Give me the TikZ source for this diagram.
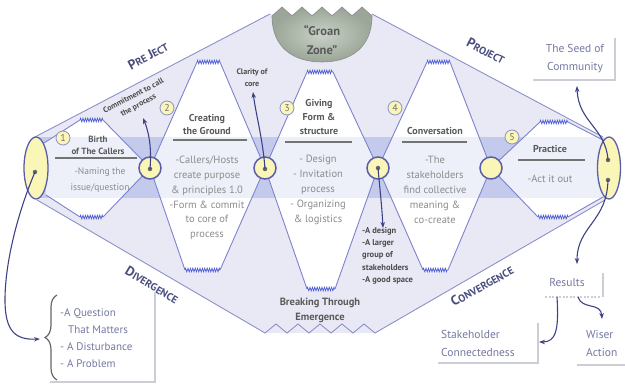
\documentclass[tikz,border=0pt]{standalone}
\usepackage{fontspec}
\setmainfont{PT Sans}
\usetikzlibrary{arrows.meta,decorations.pathmorphing,decorations.pathreplacing,shapes.geometric}
\definecolor{lav}{HTML}{E9E9F6}
\definecolor{banddark}{HTML}{C3CAEC}
\definecolor{bandlight}{HTML}{EDEFF9}
\definecolor{wavec}{HTML}{7C82CC}
\definecolor{squigc}{HTML}{4F5FD6}
\definecolor{outerc}{HTML}{8C90C8}
\definecolor{navy}{HTML}{3E4285}
\definecolor{cyel}{HTML}{FAF6B8}
\definecolor{cring}{HTML}{5A5EA8}
\definecolor{groanc}{HTML}{9AA698}
\definecolor{groanin}{HTML}{C9D1C6}
\definecolor{ttlc}{HTML}{5A5A5A}
\definecolor{bodc}{HTML}{8C8C8C}
\definecolor{lblc}{HTML}{4A4E7E}
\definecolor{boxc}{HTML}{7478A0}
\definecolor{shadc}{HTML}{CDCDD6}
\newcommand\mysc[2]{{\fontsize{13.5}{13.5}\selectfont #1}{\fontsize{10.5}{10.5}\selectfont #2}}
\begin{document}
\begin{tikzpicture}[x=1pt,y=-1pt,
  wave/.style={draw=wavec,line width=0.9pt},
  squig/.style={draw=squigc,line width=0.7pt,decorate,decoration={zigzag,segment length=2.4pt,amplitude=1.8pt}},
  outer/.style={draw=outerc,line width=0.9pt},
  bigc/.style={circle,minimum size=22pt,inner sep=0pt,fill=cyel,draw=cring,line width=1.5pt},
  ell/.style={ellipse,minimum width=24pt,minimum height=62pt,inner sep=0pt,fill=cyel,draw=cring,line width=1.3pt},
  dot/.style={circle,fill=black!60,inner sep=0pt,minimum size=4.5pt},
  numc/.style={circle,minimum size=14pt,inner sep=0pt,fill=cyel,draw=outerc,line width=0.8pt,text=black!55,font=\fontsize{10}{10}\selectfont},
  ttl/.style={align=center,text=ttlc,inner sep=0pt},
  bod/.style={align=center,text=bodc,inner sep=0pt},
  sml/.style={align=center,text=black!70,inner sep=0pt,font=\fontsize{8.5}{11}\selectfont\bfseries},
  lbl/.style={text=lblc,inner sep=0pt,font=\bfseries},
  boxt/.style={text=boxc,inner sep=0pt,font=\fontsize{11.5}{18}\selectfont},
  uline/.style={draw=black!55,line width=1.3pt},
  shad/.style={draw=shadc,line width=1.3pt},
  narr/.style={draw=navy,line width=1.1pt,-{Stealth[length=6pt,width=4.5pt]}}]
\useasboundingbox (0,0) rectangle (625,387);

% diamond background
\fill[lav] (33,138) -- (270,14) -- (372,14) -- (603,137) -- (620,168) -- (605,200) -- (375,333) -- (265,333) -- (37,200) -- (24,168) -- cycle;
\begin{scope}
\clip (0,138) rectangle (625,198);
\fill[banddark] (33,138) -- (270,14) -- (372,14) -- (603,137) -- (620,168) -- (605,200) -- (375,333) -- (265,333) -- (37,200) -- (24,168) -- cycle;
\end{scope}

% cells
\fill[white] (44,143) -- (80,120) -- (103,120) -- (150,168) -- (103,217) -- (80,217) -- (46,195) -- cycle;
\fill[white] (150,168) -- (197,62) -- (220,62) -- (265,168) -- (220,270) -- (185,270) -- cycle;
\fill[white] (265,168) -- (307,72) -- (333,72) -- (378,168) -- (335,289) -- (307,289) -- cycle;
\fill[white] (378,168) -- (427,62) -- (450,62) -- (491,168) -- (448,270) -- (423,270) -- cycle;
\fill[white] (491,168) -- (540,122) -- (568,122) -- (603,140) -- (603,197) -- (568,217) -- (538,217) -- cycle;
\begin{scope}
\clip (0,138) rectangle (625,198);
\fill[bandlight] (44,143) -- (80,120) -- (103,120) -- (150,168) -- (103,217) -- (80,217) -- (46,195) -- cycle;
\fill[bandlight] (150,168) -- (197,62) -- (220,62) -- (265,168) -- (220,270) -- (185,270) -- cycle;
\fill[bandlight] (265,168) -- (307,72) -- (333,72) -- (378,168) -- (335,289) -- (307,289) -- cycle;
\fill[bandlight] (378,168) -- (427,62) -- (450,62) -- (491,168) -- (448,270) -- (423,270) -- cycle;
\fill[bandlight] (491,168) -- (540,122) -- (568,122) -- (603,140) -- (603,197) -- (568,217) -- (538,217) -- cycle;
\end{scope}

% wave lines
\draw[wave] (44,143) -- (80,120);  \draw[squig] (80,120) -- (103,120);  \draw[wave] (103,120) -- (150,168);
\draw[wave] (46,195) -- (80,217);  \draw[squig] (80,217) -- (103,217);  \draw[wave] (103,217) -- (150,168);
\draw[wave] (150,168) -- (197,62); \draw[squig] (197,62) -- (220,62);   \draw[wave] (220,62) -- (265,168);
\draw[wave] (150,168) -- (185,270);\draw[squig] (185,270) -- (220,270); \draw[wave] (220,270) -- (265,168);
\draw[wave] (265,168) -- (307,72); \draw[squig] (307,72) -- (333,72);   \draw[wave] (333,72) -- (378,168);
\draw[wave] (265,168) -- (307,289);\draw[squig] (307,289) -- (335,289); \draw[wave] (335,289) -- (378,168);
\draw[wave] (378,168) -- (427,62); \draw[squig] (427,62) -- (450,62);   \draw[wave] (450,62) -- (491,168);
\draw[wave] (378,168) -- (423,270);\draw[squig] (423,270) -- (448,270); \draw[wave] (448,270) -- (491,168);
\draw[wave] (491,168) -- (540,122);\draw[squig] (540,122) -- (568,122); \draw[wave] (568,122) -- (603,140);
\draw[wave] (491,168) -- (538,217);\draw[squig] (538,217) -- (568,217); \draw[wave] (568,217) -- (603,197);

% outer lines
\draw[outer] (33,138) -- (270,14);
\draw[outer] (372,14) -- (603,137);
\draw[outer] (37,200) -- (265,333) -- (276,324) -- (287,333) -- (298,324) -- (309,333) -- (320,324) -- (331,333) -- (342,324) -- (353,333) -- (364,324) -- (375,333) -- (605,200);

% groan zone
\draw[draw=black!45,line width=0.6pt,inner color=groanin,outer color=groanc]
  (272,16) -- (282,7) -- (292,16) -- (302,7) -- (312,16) -- (322,7) -- (332,16) -- (342,7) -- (352,16) -- (362,7) -- (372,16)
  .. controls (372,48) and (350,62) .. (322,62) .. controls (294,62) and (272,48) .. (272,16) -- cycle;
\node[ttl,font=\fontsize{12.5}{19}\selectfont\bfseries] (gz) at (322,40) {“Groan\\Zone”};

% ellipses and circles
\node[ell] (le) at (36,168) {};
\node[ell,minimum width=23pt] (re) at (609,168) {};
\node[bigc] (c1) at (150,168) {};
\node[bigc] (c2) at (265,168) {};
\node[bigc] (c3) at (378,168) {};
\node[bigc] (c4) at (491,168) {};
\node[dot] (ld) at (35,172) {};
\node[dot] (d1) at (150,169) {};
\node[dot] (d2) at (265,169) {};
\node[dot] (d3) at (378,168) {};
\node[dot] (rd1) at (608,160) {};
\node[dot] (rd2) at (608,180) {};

% number circles
\node[numc] (n1) at (63,138) {1};
\node[numc] (n2) at (167,108) {2};
\node[numc] (n3) at (287,108) {3};
\node[numc] (n4) at (395,108) {4};
\node[numc] (n5) at (512,137) {5};

% cell texts
\node[ttl,font=\fontsize{9}{12}\selectfont\bfseries] (t1) at (98,145) {Birth\\of The Callers};
\draw[uline] (55,158) -- (137,158);
\node[bod,font=\fontsize{9.5}{16}\selectfont] (b1) at (100,180) {-Naming the\\issue/question};

\node[ttl,font=\fontsize{10}{13}\selectfont\bfseries] (t2) at (207,125) {Creating\\the Ground};
\draw[uline] (173,140) -- (247,140);
\node[bod,font=\fontsize{10.5}{14.8}\selectfont] (b2) at (207,198) {-Callers/Hosts\\create purpose\\\& principles 1.0\\-Form \& commit\\to core of\\process};

\node[ttl,font=\fontsize{10}{14}\selectfont\bfseries] (t3) at (319,117) {Giving\\Form \&\\structure};
\draw[uline] (285,142) -- (352,142);
\node[bod,font=\fontsize{10.5}{15}\selectfont] (b3) at (318,190) {- Design\\- Invitation\\process\\- Organizing\\\& logistics};

\node[ttl,font=\fontsize{10}{13}\selectfont\bfseries] (t4) at (435,131) {Conversation};
\draw[uline] (402,142) -- (467,142);
\node[bod,font=\fontsize{10.5}{15}\selectfont] (b4) at (435,190) {-The\\stakeholders\\find collective\\meaning \&\\co-create};

\node[ttl,font=\fontsize{10}{13}\selectfont\bfseries] (t5) at (550,149) {Practice};
\draw[uline] (518,160) -- (585,160);
\node[bod,font=\fontsize{10.5}{15}\selectfont] (b5) at (550,179) {-Act it out};

\node[ttl,font=\fontsize{10.5}{15}\selectfont\bfseries] (bt) at (320,310) {Breaking Through\\Emergence};

% small labels
\node[sml,rotate=28,font=\fontsize{8}{10.5}\selectfont\bfseries] (cm) at (136,101) {Commitment to call\\the process};
\node[sml,font=\fontsize{8}{12}\selectfont\bfseries] (cl) at (252,78) {Clarity of\\core};
\node[sml,align=left,anchor=north west,font=\fontsize{8.5}{12.3}\selectfont\bfseries] (des) at (362,227) {-A design\\-A larger\\group of\\stakeholders\\-A good space};

% side labels
\node[lbl,rotate=28] (pj) at (148,56) {\mysc{P}{RE} \mysc{J}{ECT}};
\node[lbl,rotate=-28] (pr) at (486,51) {\mysc{P}{ROJECT}};
\node[lbl,rotate=-31] (dv) at (152,285) {\mysc{D}{IVERGENCE}};
\node[lbl,rotate=29] (cv) at (482,286) {\mysc{C}{ONVERGENCE}};

% arrows from circles
\coordinate (a1) at (143,118);
\coordinate (a2) at (253,92);
\coordinate (a3) at (383,228);
\draw[narr] (d1.center) .. controls (152,145) and (148,130) .. (a1);
\draw[narr] (d2.center) .. controls (263,140) and (256,115) .. (a2);
\draw[narr] (d3.center) .. controls (380,190) and (382,208) .. (a3);

% outcome boxes
\draw[shad] (533,80) -- (615,80) -- (615,38);
\node[boxt,align=center] (seed) at (575,59) {The Seed of\\Community};
\draw[shad] (603,273) -- (603,297);
\draw[shad,dash pattern=on 2pt off 1.5pt] (545,297) -- (600,297);
\node[boxt] (res) at (567,283) {Results};
\draw[shad] (438,363) -- (538,363) -- (538,323);
\node[boxt,align=left,anchor=west] (stk) at (441,343) {Stakeholder\\Connectedness};
\draw[shad] (577,365) -- (625,365);
\node[boxt,align=left,anchor=west] (wis) at (586,343) {Wiser\\Action};
\draw[shad] (50,382) -- (155,382) -- (155,292);
\node[boxt,align=left,anchor=north west,font=\fontsize{11}{17}\selectfont] (qs) at (60,308) {-A Question\\\hspace*{8pt}That Matters\\- A Disturbance\\- A Problem};
\draw[draw=black!60,line width=1.2pt,decorate,decoration={brace,amplitude=12pt}] (57,380) -- (57,295);

% ellipse arrows
\coordinate (aq) at (40,339);
\coordinate (as) at (577,86);
\coordinate (ar) at (577,264);
\coordinate (r1) at (557,297);
\coordinate (r2) at (578,297);
\coordinate (ak) at (539,342);
\coordinate (aw) at (602,319);
\draw[narr] (ld.center) .. controls (18,212) and (5,262) .. (5,300) .. controls (5,332) and (16,340) .. (aq);
\draw[narr] (rd1.center) .. controls (606,128) and (578,122) .. (as);
\draw[narr] (rd2.center) .. controls (607,222) and (577,226) .. (ar);
\draw[narr] (r1) .. controls (559,330) and (556,342) .. (ak);
\draw[narr] (r2) .. controls (582,310) and (601,302) .. (aw);
\end{tikzpicture}
\end{document}
